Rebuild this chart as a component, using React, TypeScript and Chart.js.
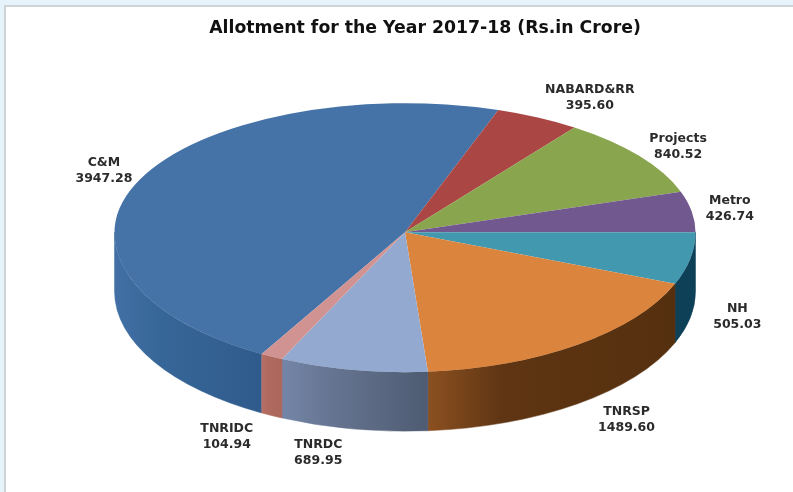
import React, { useEffect, useRef } from "react";
import { Chart, registerables } from "chart.js";

Chart.register(...registerables);

const categories = ["C&M", "NABARD&RR", "Projects", "Metro", "NH", "TNRSP", "TNRDC", "TNRIDC"];
const allotments = [3947.28, 395.6, 840.52, 426.74, 505.03, 1489.6, 689.95, 104.94];
const valueLabels = ["3947.28", "395.60", "840.52", "426.74", "505.03", "1489.60", "689.95", "104.94"];
const faceColors = ["#4572A7", "#AA4643", "#89A54E", "#71588F", "#4198AF", "#DB843D", "#93A9CF", "#D19392"];
// Wall shading of each slice, from its left end through a point 30% along to its right end.
const wallLeftColors = ["#4270a6", "#7a3230", "#62763a", "#503f66", "#0e4058", "#8c5020", "#7486a8", "#b56f66"];
const wallMidColors = ["#376698", "#7a3230", "#62763a", "#503f66", "#0e4058", "#5f3513", "#677693", "#b06a60"];
const wallRightColors = ["#2f5b8c", "#7a3230", "#62763a", "#503f66", "#0e4058", "#55300f", "#4e5b72", "#ac675c"];
const chartTitle = "Allotment for the Year 2017-18 (Rs.in Crore)";

// Flattened-disc projection used for the face and the wall.
const RADIUS_X = 290.5;
const RADIUS_UP = 129;
const RADIUS_DOWN = 140;
const DEPTH = 59;
// Clockwise rotation, in degrees from twelve o'clock, where the first slice begins.
const START_ROTATION = 209.55;
// The title sits this far right of the disc's centre.
const TITLE_SHIFT = 20;
// Text shift of each label from the point of the rim at the middle of its slice.
const labelShift: [number, number][] = [
  [-36, -9], [52, -20], [39, -9], [38, -3], [47, 58], [49, 75], [-35, 83], [-45, 80],
];

const discPlugin = {
  id: "disc",
  afterLayout(chart: any) {
    // Widening the title's box on one side moves its centred text over.
    chart.titleBlock.left += TITLE_SHIFT * 2;
  },
  beforeDatasetsDraw(chart: any) {
    const { ctx, chartArea } = chart;
    const arcs = chart.getDatasetMeta(0).data;
    const { x: cx, y: cy, outerRadius: r } = arcs[0];

    // Wall: the part of every slice that faces the viewer.
    arcs.forEach((arc: any, i: number) => {
      const twoPi = Math.PI * 2;
      let a0 = arc.startAngle % twoPi;
      if (a0 < 0) a0 += twoPi;
      const a1 = a0 + (arc.endAngle - arc.startAngle);
      const ranges = [
        [Math.max(a0, 0), Math.min(a1, Math.PI)],
        [Math.max(a0, twoPi), Math.min(a1, twoPi + Math.PI)],
      ];
      ranges.forEach(([from, to]) => {
        if (to <= from) return;
        const xa = cx + RADIUS_X * Math.cos(to);
        const xb = cx + RADIUS_X * Math.cos(from);
        const grad = ctx.createLinearGradient(xa, 0, xb, 0);
        grad.addColorStop(0, wallLeftColors[i]);
        grad.addColorStop(0.3, wallMidColors[i]);
        grad.addColorStop(1, wallRightColors[i]);
        ctx.save();
        ctx.beginPath();
        ctx.ellipse(cx, cy, RADIUS_X, RADIUS_DOWN, 0, from, to);
        ctx.ellipse(cx, cy + DEPTH, RADIUS_X, RADIUS_DOWN, 0, to, from, true);
        ctx.closePath();
        ctx.fillStyle = grad;
        ctx.strokeStyle = grad;
        ctx.lineWidth = 0.5;
        ctx.fill();
        ctx.stroke();
        ctx.restore();
      });
    });

    // Face: the library's arcs, squeezed separately above and below the centre.
    const seam = Math.round(cy);
    const halves = [
      { top: 0, bottom: seam, ry: RADIUS_UP },
      { top: seam, bottom: chart.height, ry: RADIUS_DOWN },
    ];
    halves.forEach(({ top, bottom, ry }) => {
      ctx.save();
      ctx.beginPath();
      ctx.rect(0, top, chart.width, bottom - top);
      ctx.clip();
      ctx.translate(cx, cy);
      ctx.scale(RADIUS_X / r, ry / r);
      ctx.translate(-cx, -cy);
      arcs.forEach((arc: any) => arc.draw(ctx, chartArea));
      ctx.restore();
    });
    return false;
  },
  afterDraw(chart: any) {
    const { ctx } = chart;
    const arcs = chart.getDatasetMeta(0).data;
    ctx.save();
    ctx.font = 'bold 12.5px "DejaVu Sans"';
    ctx.fillStyle = "#2b2b2b";
    ctx.textAlign = "center";
    ctx.textBaseline = "middle";
    arcs.forEach((arc: any, i: number) => {
      const mid = (arc.startAngle + arc.endAngle) / 2;
      const sin = Math.sin(mid);
      const rimX = arc.x + RADIUS_X * Math.cos(mid);
      const rimY = arc.y + (sin < 0 ? RADIUS_UP : RADIUS_DOWN) * sin;
      const x = rimX + labelShift[i][0];
      const y = rimY + labelShift[i][1];
      ctx.fillText(categories[i], x, y - 8);
      ctx.fillText(valueLabels[i], x, y + 8);
    });
    ctx.restore();
  },
};

export default function App() {
  const ref = useRef<HTMLCanvasElement>(null);
  useEffect(() => {
    const chart = new Chart(ref.current!, {
      type: "pie",
      data: {
        labels: categories,
        datasets: [{ data: allotments, backgroundColor: faceColors, borderWidth: 0 }],
      },
      options: {
        responsive: false,
        animation: false,
        rotation: START_ROTATION,
        layout: { padding: { left: 17, right: 0, top: 0, bottom: 78 } },
        plugins: {
          legend: { display: false },
          tooltip: { enabled: false },
          title: {
            display: true,
            text: chartTitle,
            color: "#111111",
            font: { family: '"DejaVu Sans"', size: 17.3, weight: "bold" },
            padding: { top: 18, bottom: 11.6 },
          },
        },
      },
      plugins: [discPlugin],
    });
    return () => chart.destroy();
  }, []);

  return (
    <div style={{ position: "absolute", left: 0, top: 0, width: 793, height: 492, background: "#e6f3fb", overflow: "hidden" }}>
      <div style={{ position: "absolute", left: 4, top: 5, right: 0, bottom: 0, background: "#ffffff", borderTop: "2px solid #cfd3d6", borderLeft: "2px solid #cfd3d6" }} />
      <canvas ref={ref} width={793} height={492} style={{ position: "absolute", left: 0, top: 0 }} />
    </div>
  );
}
